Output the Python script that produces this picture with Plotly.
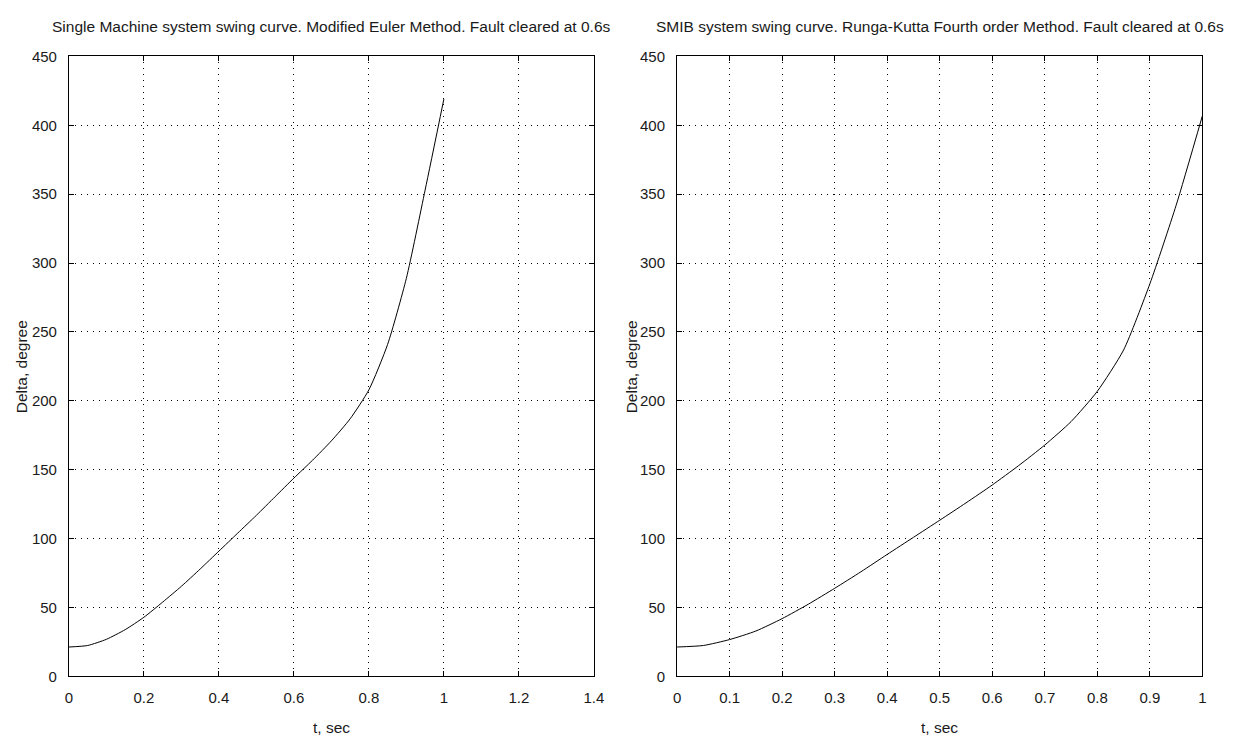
import plotly.graph_objects as go

# ---- data ----
t_left = [0.0, 0.05, 0.1, 0.15, 0.2, 0.25, 0.3, 0.35, 0.4, 0.45, 0.5,
          0.55, 0.6, 0.65, 0.7, 0.75, 0.8, 0.85, 0.9, 0.95, 1.0]
delta_euler = [21.4, 22.5, 27.0, 34.0, 43.0, 54.0, 65.5, 78.0, 91.0, 104.0, 117.0,
               130.5, 144.0, 157.0, 171.0, 187.0, 208.0, 241.0, 289.0, 353.0, 419.0]

t_right = [0.0, 0.05, 0.1, 0.15, 0.2, 0.25, 0.3, 0.35, 0.4, 0.45, 0.5,
           0.55, 0.6, 0.65, 0.7, 0.75, 0.8, 0.85, 0.9, 0.95, 1.0]
delta_rk4 = [21.4, 22.5, 26.8, 33.0, 42.0, 52.5, 64.0, 76.0, 88.6, 101.0, 113.4,
             126.0, 139.0, 153.0, 168.0, 185.0, 207.0, 237.0, 285.0, 342.0, 407.0]

left_title = "Single Machine system swing curve. Modified Euler Method. Fault cleared at 0.6s"
right_title = "SMIB system swing curve. Runga-Kutta Fourth order Method. Fault cleared at 0.6s"
x_label = "t, sec"
y_label = "Delta, degree"
y_ticks = [0, 50, 100, 150, 200, 250, 300, 350, 400, 450]
x_ticks_left = [0, 0.2, 0.4, 0.6, 0.8, 1.0, 1.2, 1.4]
x_ticks_left_text = ["0", "0.2", "0.4", "0.6", "0.8", "1", "1.2", "1.4"]
x_ticks_right = [0, 0.1, 0.2, 0.3, 0.4, 0.5, 0.6, 0.7, 0.8, 0.9, 1.0]
x_ticks_right_text = ["0", "0.1", "0.2", "0.3", "0.4", "0.5", "0.6", "0.7", "0.8", "0.9", "1"]

FONT = "Liberation Sans Narrow, Liberation Sans, Arial, sans-serif"
W, H = 1250, 749

fig = go.Figure()
fig.add_trace(go.Scatter(x=t_left, y=delta_euler, mode="lines", xaxis="x", yaxis="y",
                         line=dict(color="black", width=1, shape="spline", smoothing=0.6),
                         showlegend=False))
fig.add_trace(go.Scatter(x=t_right, y=delta_rk4, mode="lines", xaxis="x2", yaxis="y2",
                         line=dict(color="black", width=1, shape="spline", smoothing=0.6),
                         showlegend=False))

ydom = [(749 - 683) / H, (749 - 48.5) / H]
xdom1 = [65.7 / W, 596.5 / W]
xdom2 = [680.7 / W, 1212 / W]

common_axis = dict(showline=True, linecolor="black", linewidth=1, mirror="ticks",
                   ticks="inside", ticklen=5, tickcolor="black",
                   showgrid=True, gridcolor="black", gridwidth=1, griddash="1px,5px",
                   zeroline=False, tickfont=dict(family=FONT, size=15, color="#1a1a1a"),
                   ticklabelstandoff=8)

fig.update_layout(
    width=W, height=H, margin=dict(l=0, r=0, t=0, b=0),
    paper_bgcolor="white", plot_bgcolor="white",
    xaxis=dict(domain=xdom1, range=[0, 1.4], tickvals=x_ticks_left, ticktext=x_ticks_left_text,
               anchor="y", **common_axis),
    yaxis=dict(domain=ydom, range=[0, 450], tickvals=y_ticks, anchor="x", **common_axis),
    xaxis2=dict(domain=xdom2, range=[0, 1.0], tickvals=x_ticks_right, ticktext=x_ticks_right_text,
                anchor="y2", **common_axis),
    yaxis2=dict(domain=ydom, range=[0, 450], tickvals=y_ticks, anchor="x2", **common_axis),
)

tfont = dict(family=FONT, size=15.5, color="#1a1a1a")
ann = [
    dict(text=left_title, x=(xdom1[0] + xdom1[1]) / 2, y=1 - 18 / H, xref="paper", yref="paper",
         showarrow=False, font=tfont, xanchor="center", yanchor="middle"),
    dict(text=right_title, x=(xdom2[0] + xdom2[1]) / 2, y=1 - 18 / H, xref="paper", yref="paper",
         showarrow=False, font=tfont, xanchor="center", yanchor="middle"),
    dict(text=x_label, x=(xdom1[0] + xdom1[1]) / 2, y=1 - 735 / H, xref="paper", yref="paper",
         showarrow=False, font=tfont, xanchor="center", yanchor="middle"),
    dict(text=x_label, x=(xdom2[0] + xdom2[1]) / 2, y=1 - 735 / H, xref="paper", yref="paper",
         showarrow=False, font=tfont, xanchor="center", yanchor="middle"),
    dict(text=y_label, x=18 / W, y=(ydom[0] + ydom[1]) / 2, xref="paper", yref="paper",
         showarrow=False, font=tfont, textangle=-90, xanchor="center", yanchor="middle"),
    dict(text=y_label, x=635 / W, y=(ydom[0] + ydom[1]) / 2, xref="paper", yref="paper",
         showarrow=False, font=tfont, textangle=-90, xanchor="center", yanchor="middle"),
]
fig.update_layout(annotations=ann)

fig.write_html("out.html")
